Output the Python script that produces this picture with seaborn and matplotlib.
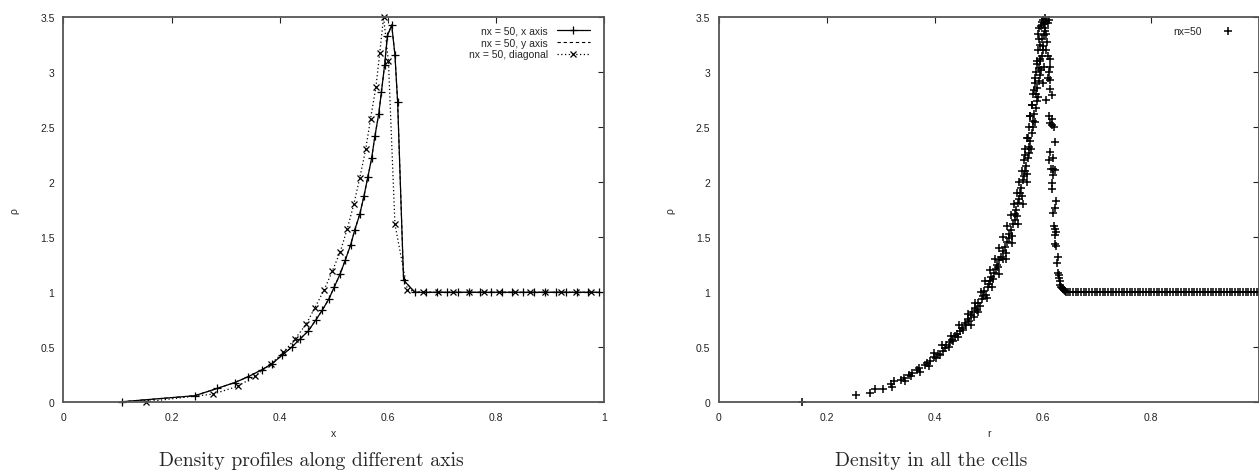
import matplotlib
matplotlib.use("Agg")
import matplotlib.pyplot as plt
import seaborn as sns
import pandas as pd

# ---------------- data: left panel ----------------
x_axis_x = [0.108, 0.243, 0.285, 0.317, 0.342, 0.367, 0.385, 0.405, 0.422, 0.4375,
            0.453, 0.467, 0.479, 0.491, 0.501, 0.512, 0.521, 0.531, 0.539, 0.548,
            0.556, 0.563, 0.570, 0.576, 0.583, 0.588, 0.594, 0.599, 0.607, 0.613,
            0.618, 0.629, 0.650, 0.670, 0.690, 0.710, 0.730, 0.750, 0.770, 0.790,
            0.810, 0.830, 0.850, 0.870, 0.890, 0.910, 0.930, 0.950, 0.970, 0.990]
x_axis_rho = [0.005, 0.06, 0.127, 0.18, 0.233, 0.296, 0.348, 0.43, 0.50, 0.575,
              0.65, 0.75, 0.84, 0.94, 1.05, 1.17, 1.29, 1.43, 1.57, 1.71,
              1.88, 2.05, 2.22, 2.42, 2.62, 2.82, 3.07, 3.33, 3.43, 3.16,
              2.73, 1.11, 1.0, 1.0, 1.0, 1.0, 1.0, 1.0, 1.0, 1.0,
              1.0, 1.0, 1.0, 1.0, 1.0, 1.0, 1.0, 1.0, 1.0, 1.0]
y_axis_x = list(x_axis_x)
y_axis_rho = list(x_axis_rho)
diag_x = [0.153, 0.277, 0.322, 0.354, 0.383, 0.407, 0.428, 0.449, 0.465, 0.482,
          0.497, 0.512, 0.525, 0.537, 0.548, 0.559, 0.568, 0.578, 0.585, 0.592,
          0.601, 0.613, 0.636, 0.6646, 0.6929, 0.7212, 0.7495, 0.7778, 0.8061,
          0.8344, 0.8627, 0.8910, 0.9192, 0.9475, 0.9758]
diag_rho = [0.005, 0.075, 0.145, 0.236, 0.345, 0.455, 0.575, 0.71, 0.86, 1.02,
            1.19, 1.37, 1.58, 1.80, 2.04, 2.30, 2.58, 2.87, 3.18, 3.50,
            3.10, 1.62, 1.02, 1.0, 1.0, 1.0, 1.0, 1.0, 1.0,
            1.0, 1.0, 1.0, 1.0, 1.0, 1.0]
legend_left = ["nx = 50, x axis", "nx = 50, y axis", "nx = 50, diagonal"]

# ---------------- data: right panel (all cells) ----------------
rise_r = [0.153, 0.254, 0.279, 0.289, 0.303, 0.319, 0.321, 0.323, 0.336, 0.342, 0.345,
          0.351, 0.356, 0.358, 0.366, 0.370, 0.372, 0.381, 0.385, 0.389, 0.391,
          0.398, 0.402, 0.405, 0.409, 0.414, 0.418, 0.421, 0.425, 0.428,
          0.431, 0.434, 0.437, 0.440, 0.443, 0.446, 0.449, 0.452, 0.455, 0.458,
          0.460, 0.463, 0.466, 0.469, 0.472, 0.474, 0.477, 0.480, 0.483, 0.486,
          0.488, 0.491, 0.494, 0.497, 0.499, 0.501, 0.504, 0.507, 0.509, 0.512,
          0.514, 0.517, 0.519, 0.522, 0.525, 0.526, 0.529, 0.531, 0.533, 0.536,
          0.537, 0.540, 0.542, 0.544, 0.547, 0.548, 0.550, 0.552, 0.554, 0.556,
          0.557, 0.559, 0.561, 0.562, 0.565, 0.566, 0.568, 0.570, 0.571, 0.573,
          0.574, 0.576, 0.578, 0.579, 0.581, 0.581, 0.583, 0.585, 0.586, 0.588,
          0.587, 0.589, 0.591, 0.592, 0.594, 0.592, 0.594, 0.596, 0.597, 0.599,
          0.595, 0.597, 0.600, 0.601, 0.603, 0.596, 0.598, 0.601, 0.603, 0.605,
          0.590, 0.593, 0.599, 0.604, 0.606, 0.608, 0.610, 0.607, 0.605, 0.609,
          0.584, 0.588, 0.595, 0.600, 0.602, 0.579, 0.583, 0.571, 0.576, 0.566,
          0.570, 0.563, 0.553, 0.542, 0.531, 0.518, 0.506, 0.496, 0.479, 0.466,
          0.398, 0.429, 0.461, 0.484, 0.502, 0.519, 0.533, 0.546, 0.556, 0.564,
          0.570, 0.576, 0.581, 0.586, 0.590, 0.412, 0.445, 0.473, 0.493, 0.511,
          0.526, 0.540, 0.551, 0.560, 0.567, 0.574, 0.579, 0.584, 0.588, 0.592]
rise_rho = [0.003, 0.067, 0.082, 0.12, 0.12, 0.17, 0.14, 0.19, 0.20, 0.22, 0.19,
            0.25, 0.24, 0.27, 0.29, 0.31, 0.28, 0.34, 0.36, 0.33, 0.38,
            0.41, 0.40, 0.44, 0.43, 0.47, 0.49, 0.52, 0.50, 0.55,
            0.57, 0.56, 0.60, 0.62, 0.59, 0.65, 0.68, 0.66, 0.72, 0.70,
            0.76, 0.74, 0.79, 0.82, 0.78, 0.86, 0.84, 0.90, 0.88, 0.94,
            0.97, 1.01, 0.98, 1.05, 1.08, 1.10, 1.14, 1.12, 1.18, 1.21,
            1.25, 1.23, 1.29, 1.32, 1.30, 1.38, 1.41, 1.36, 1.46, 1.49,
            1.53, 1.57, 1.51, 1.62, 1.66, 1.71, 1.75, 1.69, 1.81, 1.85,
            1.90, 1.95, 1.88, 2.02, 2.06, 2.10, 2.15, 2.08, 2.22, 2.27,
            2.32, 2.38, 2.30, 2.45, 2.50, 2.56, 2.62, 2.55, 2.68, 2.74,
            2.80, 2.86, 2.78, 2.92, 2.98, 3.04, 3.10, 3.02, 3.15, 3.20,
            3.25, 3.30, 3.24, 3.34, 3.38, 3.42, 3.46, 3.44, 3.49, 3.47,
            3.35, 3.40, 3.48, 3.40, 3.35, 3.45, 3.48, 3.28, 3.20, 3.15,
            2.95, 3.08, 3.12, 2.90, 3.05, 2.70, 2.84, 2.40, 2.60, 2.25,
            2.00, 1.80, 1.62, 1.45, 1.30, 1.17, 1.05, 0.95, 0.82, 0.70,
            0.45, 0.60, 0.80, 1.00, 1.20, 1.40, 1.60, 1.80, 2.00, 2.20,
            2.40, 2.60, 2.80, 3.00, 3.20, 0.52, 0.70, 0.90, 1.10, 1.30,
            1.50, 1.70, 1.90, 2.10, 2.30, 2.50, 2.70, 2.90, 3.10, 3.30]
fall_r = [0.6126, 0.613, 0.611, 0.6135, 0.608, 0.6126, 0.616, 0.6047,
          0.611, 0.616, 0.6135, 0.617, 0.620, 0.622, 0.6135, 0.618, 0.6116,
          0.6143, 0.6185, 0.622, 0.6185, 0.617, 0.6155, 0.623, 0.6215, 0.6185,
          0.620, 0.622, 0.624, 0.6215, 0.622, 0.6245, 0.627, 0.626,
          0.627, 0.629, 0.630, 0.631, 0.632, 0.633, 0.634, 0.636, 0.638,
          0.640, 0.643, 0.646]
fall_rho = [3.12, 3.05, 3.00, 2.93, 2.95, 2.85, 2.79, 2.75,
            2.60, 2.58, 2.54, 2.52, 2.50, 2.37, 2.28, 2.22, 2.20,
            2.12, 2.12, 2.11, 2.07, 1.99, 1.94, 1.83, 1.77, 1.72,
            1.60, 1.58, 1.55, 1.52, 1.44, 1.42, 1.32, 1.27,
            1.18, 1.16, 1.13, 1.10, 1.07, 1.05, 1.04, 1.03, 1.02,
            1.01, 1.005, 1.002]
flat_r = [0.650, 0.655, 0.660, 0.665, 0.670, 0.675, 0.680, 0.685, 0.690, 0.695,
          0.700, 0.705, 0.710, 0.715, 0.720, 0.725, 0.730, 0.735, 0.740, 0.745,
          0.750, 0.755, 0.760, 0.765, 0.770, 0.775, 0.780, 0.785, 0.790, 0.795,
          0.800, 0.805, 0.810, 0.815, 0.820, 0.825, 0.830, 0.835, 0.840, 0.845,
          0.850, 0.855, 0.860, 0.865, 0.870, 0.875, 0.880, 0.885, 0.890, 0.895,
          0.900, 0.905, 0.910, 0.915, 0.920, 0.925, 0.930, 0.935, 0.940, 0.945,
          0.950, 0.955, 0.960, 0.965, 0.970, 0.975, 0.980, 0.985, 0.990, 0.995, 1.000]
flat_rho = [1.0] * len(flat_r)
legend_right = "nx=50"

x_ticks = [0, 0.2, 0.4, 0.6, 0.8, 1.0]
x_ticklabels = ["0", "0.2", "0.4", "0.6", "0.8", "1"]
x_ticklabels_right = ["0", "0.2", "0.4", "0.6", "0.8", ""]
y_ticks = [0, 0.5, 1.0, 1.5, 2.0, 2.5, 3.0, 3.5]
y_ticklabels = ["0", "0.5", "1", "1.5", "2", "2.5", "3", "3.5"]
captions = ["Density profiles along different axis", "Density in all the cells"]

# ---------------- plotting ----------------
sns.set_theme(style="white")
plt.rcParams["font.family"] = ["Liberation Sans", "DejaVu Sans"]

W, H = 1259, 477
fig = plt.figure(figsize=(W / 100, H / 100), dpi=100)
ax1 = fig.add_axes([63.3 / W, 1 - 403.3 / H, 541 / W, 385 / H])
ax2 = fig.add_axes([719 / W, 1 - 403.3 / H, 540.3 / W, 385 / H])

df_x = pd.DataFrame({"x": x_axis_x, "rho": x_axis_rho})
df_y = pd.DataFrame({"x": y_axis_x, "rho": y_axis_rho})
df_d = pd.DataFrame({"x": diag_x, "rho": diag_rho})

sns.lineplot(data=df_x, x="x", y="rho", ax=ax1, color="black", lw=0.9,
             marker="+", markersize=5.5, markeredgewidth=0.9,
             markeredgecolor="black", estimator=None,
             sort=False, label=legend_left[0], clip_on=False)
sns.lineplot(data=df_y, x="x", y="rho", ax=ax1, color="black", lw=0.8,
             linestyle=(0, (3, 2.5)), estimator=None, sort=False,
             label=legend_left[1])
sns.lineplot(data=df_d, x="x", y="rho", ax=ax1, color="black", lw=0.9,
             linestyle=(0, (1, 2)), marker="x", markersize=4.5,
             markeredgewidth=0.9, markeredgecolor="black", estimator=None,
             sort=False, label=legend_left[2], clip_on=False)

all_r = rise_r + fall_r + flat_r
all_rho = rise_rho + fall_rho + flat_rho
df_all = pd.DataFrame({"r": all_r, "rho": all_rho})
sns.scatterplot(data=df_all, x="r", y="rho", ax=ax2, marker="+", s=28,
                color="black", linewidth=1.1, label=legend_right, clip_on=False)

for ax, xl, xtl in [(ax1, "x", x_ticklabels), (ax2, "r", x_ticklabels_right)]:
    ax.set_xlim(0, 1)
    ax.set_ylim(0, 3.5)
    ax.set_xticks(x_ticks)
    ax.set_xticklabels(xtl)
    ax.set_yticks(y_ticks)
    ax.set_yticklabels(y_ticklabels)
    ax.tick_params(direction="in", length=4.3, width=0.8, colors="#222222",
                   labelsize=7.5, top=True, right=True, pad=6.3)
    ax.tick_params(axis="x", pad=7)
    for sp in ax.spines.values():
        sp.set_color("#555555")
        sp.set_linewidth(1.3)
        sp.set_visible(True)
    ax.set_xlabel(xl, fontsize=7.5, labelpad=4.5)
    ax.set_ylabel("ρ", fontsize=7.5, labelpad=15)
    ax.grid(False)

leg_kw = dict(loc="upper right", frameon=False, markerfirst=False,
              fontsize=7.5, handlelength=3.2, handletextpad=0.85,
              borderaxespad=0, borderpad=0.4, labelspacing=0.18)
ax1.legend(bbox_to_anchor=(0.981, 0.989), numpoints=1, **leg_kw)
ax2.legend(bbox_to_anchor=(0.980, 0.989), scatterpoints=1, **leg_kw)

fig.text(311 / W, 1 - 466 / H, captions[0], fontsize=14.2, family=["cmr10", "DejaVu Serif"],
         ha="center", va="baseline")
fig.text(931 / W, 1 - 466 / H, captions[1], fontsize=14.2, family=["cmr10", "DejaVu Serif"],
         ha="center", va="baseline")

fig.savefig("out.png", dpi=100)
